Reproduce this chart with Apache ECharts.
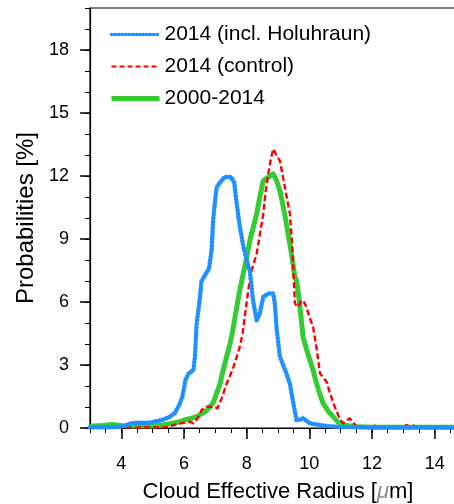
<!DOCTYPE html>
<html>
<head>
<meta charset="utf-8">
<script src="https://cdn.jsdelivr.net/npm/echarts@6/dist/echarts.min.js"></script>
<style>
  html, body { margin: 0; padding: 0; background: #fff; }
  #chart { width: 454px; height: 504px; }
</style>
</head>
<body>
<div id="chart"></div>
<script>
// Cloud effective radius (µm) and probability (%) for each distribution
const holuhraunR = [3.0, 3.3, 3.6, 3.9, 4.1, 4.3, 4.6, 4.9, 5.1, 5.3, 5.5, 5.7, 5.85, 5.95, 6.05, 6.15, 6.3, 6.35, 6.4, 6.5, 6.56, 6.67, 6.8, 6.88, 6.93, 6.99, 7.04, 7.15, 7.3, 7.5, 7.6, 7.68, 7.78, 7.9, 8.05, 8.1, 8.2, 8.32, 8.42, 8.53, 8.69, 8.85, 8.9, 8.96, 9.06, 9.27, 9.38, 9.49, 9.59, 9.7, 9.8, 9.9, 10.02, 10.34, 10.66, 11.0, 12.0, 13.0, 14.0, 15.0];
const holuhraunP = [0.03, 0.03, 0.04, 0.05, 0.1, 0.22, 0.25, 0.25, 0.32, 0.38, 0.5, 0.7, 1.1, 1.5, 2.3, 2.6, 2.75, 3.4, 4.9, 6.1, 7.0, 7.27, 7.6, 8.46, 9.88, 10.8, 11.45, 11.7, 11.95, 11.95, 11.7, 10.7, 9.6, 8.6, 7.7, 7.5, 6.1, 5.13, 5.45, 6.24, 6.4, 6.4, 5.9, 4.66, 3.4, 2.6, 2.1, 1.17, 0.38, 0.4, 0.46, 0.35, 0.22, 0.14, 0.08, 0.05, 0.04, 0.03, 0.03, 0.03];

const controlR = [3.0, 4.0, 4.5, 5.0, 5.34, 5.55, 5.66, 5.9, 6.19, 6.3, 6.35, 6.45, 6.56, 6.72, 6.83, 6.95, 7.07, 7.2, 7.36, 7.5, 7.6, 7.78, 7.87, 7.94, 8.05, 8.16, 8.32, 8.42, 8.53, 8.6, 8.69, 8.77, 8.85, 8.95, 9.06, 9.22, 9.38, 9.45, 9.49, 9.54, 9.65, 9.72, 9.8, 9.91, 10.0, 10.12, 10.23, 10.34, 10.45, 10.55, 10.65, 10.76, 10.87, 10.97, 11.08, 11.18, 11.29, 11.4, 11.5, 11.6, 12.0, 12.1, 12.2, 13.0, 13.1, 13.2, 13.3, 13.4, 14.0, 15.0];
const controlP = [0.0, 0.02, 0.02, 0.03, 0.03, 0.06, 0.14, 0.22, 0.3, 0.22, 0.22, 0.5, 0.86, 1.01, 1.01, 1.0, 0.94, 1.4, 2.12, 2.6, 3.0, 3.86, 4.5, 5.29, 6.56, 7.5, 8.3, 9.2, 10.2, 11.2, 12.1, 12.8, 13.29, 13.0, 12.73, 11.46, 10.2, 8.8, 7.5, 5.92, 5.76, 6.0, 6.08, 5.76, 5.3, 4.81, 3.8, 2.6, 2.4, 2.2, 1.7, 1.2, 0.8, 0.45, 0.22, 0.35, 0.46, 0.25, 0.1, 0.04, 0.04, 0.12, 0.04, 0.04, 0.14, 0.08, 0.14, 0.04, 0.03, 0.03];

const climR = [3.0, 3.4, 3.7, 4.0, 4.3, 4.6, 5.0, 5.33, 5.6, 5.87, 6.0, 6.2, 6.4, 6.51, 6.7, 6.83, 6.93, 7.04, 7.15, 7.25, 7.36, 7.47, 7.55, 7.63, 7.7, 7.78, 7.89, 8.0, 8.1, 8.2, 8.32, 8.42, 8.53, 8.69, 8.85, 8.95, 9.06, 9.16, 9.27, 9.35, 9.43, 9.54, 9.59, 9.65, 9.7, 9.8, 9.9, 10.02, 10.12, 10.23, 10.34, 10.44, 10.6, 10.76, 10.9, 11.08, 11.5, 12.0, 13.0, 14.0, 15.0];
const climP = [0.08, 0.12, 0.17, 0.12, 0.1, 0.1, 0.1, 0.14, 0.22, 0.3, 0.38, 0.45, 0.54, 0.62, 0.8, 1.01, 1.2, 1.65, 2.1, 2.76, 3.4, 4.02, 4.6, 5.29, 5.9, 6.56, 7.35, 8.1, 8.93, 9.5, 10.2, 11.0, 11.78, 11.94, 12.1, 11.8, 11.3, 10.6, 9.72, 9.0, 8.3, 7.19, 7.03, 6.4, 5.76, 4.34, 3.8, 3.23, 2.76, 2.12, 1.6, 1.17, 0.8, 0.54, 0.3, 0.14, 0.06, 0.04, 0.03, 0.03, 0.03];

const seriesNames = ['2014 (incl. Holuhraun)', '2014 (control)', '2000-2014'];
const xTickValues = [4, 6, 8, 10, 12, 14];
const yTickValues = [0, 3, 6, 9, 12, 15, 18];

const FONT = "'Liberation Sans', Arial, Helvetica, sans-serif";
const BLUE = '#1e90ff', RED = '#ff0000', GREEN = '#33cc33';
const zip = (xs, ys) => xs.map((x, i) => [x, ys[i]]);

const chart = echarts.init(document.getElementById('chart'), null, { renderer: 'canvas' });

const hidden = { opacity: 0 };

chart.setOption({
  animation: false,
  backgroundColor: '#fff',
  textStyle: { fontFamily: FONT },
  grid: {
    left: 90, top: 8, width: 376, height: 420,
    outerBoundsMode: 'none', containLabel: false,
    show: true, borderColor: '#000', borderWidth: 1.2, backgroundColor: 'transparent'
  },
  legend: {
    orient: 'vertical',
    left: 104, top: 19,
    itemWidth: 48, itemHeight: 14, itemGap: 11,
    textStyle: { fontSize: 21, color: '#000', fontFamily: FONT },
    data: [
      { name: seriesNames[0], itemStyle: hidden, lineStyle: { color: BLUE, width: 3.5, type: [0.5, 3], cap: 'round' } },
      { name: seriesNames[1], itemStyle: hidden, lineStyle: { color: RED, width: 2.2, type: [5, 3] } },
      { name: seriesNames[2], itemStyle: hidden, lineStyle: { color: GREEN, width: 5 } }
    ]
  },
  xAxis: [
    {
      type: 'value', min: 3, max: 15, interval: 0.5, position: 'bottom',
      axisLine: { lineStyle: { color: '#000', width: 1.2 } },
      axisTick: { length: 5, lineStyle: { color: '#000', width: 1 } },
      axisLabel: { show: false },
      splitLine: { show: false }
    },
    {
      type: 'value', min: 3, max: 15, position: 'bottom',
      axisLine: { show: false },
      axisTick: { customValues: xTickValues, length: 11, lineStyle: { color: '#000', width: 1.5 } },
      axisLabel: { customValues: xTickValues, fontSize: 18, color: '#000', margin: 27, fontFamily: FONT },
      splitLine: { show: false },
      name: 'Cloud Effective Radius [{mu|\u03bc}m]',
      nameLocation: 'middle', nameGap: 53,
      nameTextStyle: {
        fontSize: 22, color: '#000', fontFamily: FONT,
        rich: { mu: { fontSize: 22, color: '#8c8c8c', fontStyle: 'italic', fontFamily: FONT } }
      }
    }
  ],
  yAxis: [
    {
      type: 'value', min: 0, max: 20, interval: 1, position: 'left',
      axisLine: { show: true, lineStyle: { color: '#000', width: 1.2 } },
      axisTick: { length: 5, lineStyle: { color: '#000', width: 1 } },
      axisLabel: { show: false },
      splitLine: { show: false }
    },
    {
      type: 'value', min: 0, max: 20, position: 'left',
      axisLine: { show: false },
      axisTick: { show: true, customValues: yTickValues, length: 10, lineStyle: { color: '#000', width: 1.5 } },
      axisLabel: { customValues: yTickValues, fontSize: 18, color: '#000', margin: 21, fontFamily: FONT },
      splitLine: { show: false },
      name: 'Probabilities [%]',
      nameLocation: 'middle', nameGap: 51,
      nameTextStyle: { fontSize: 24, color: '#000', fontFamily: FONT }
    }
  ],
  series: [
    {
      name: seriesNames[2], type: 'line', xAxisIndex: 0, yAxisIndex: 0,
      data: zip(climR, climP), symbol: 'none', z: 2,
      lineStyle: { color: GREEN, width: 5, join: 'round' },
      itemStyle: { color: GREEN }
    },
    {
      name: seriesNames[1], type: 'line', xAxisIndex: 0, yAxisIndex: 0,
      data: zip(controlR, controlP), symbol: 'none', z: 3,
      lineStyle: { color: RED, width: 2.4, type: [6, 3] },
      itemStyle: { color: RED }
    },
    {
      name: seriesNames[0], type: 'line', xAxisIndex: 0, yAxisIndex: 0,
      data: zip(holuhraunR, holuhraunP), symbol: 'none', z: 4,
      lineStyle: { color: BLUE, width: 4.5, type: [0.5, 3], cap: 'round', join: 'round' },
      itemStyle: { color: BLUE }
    }
  ]
});
</script>
</body>
</html>
